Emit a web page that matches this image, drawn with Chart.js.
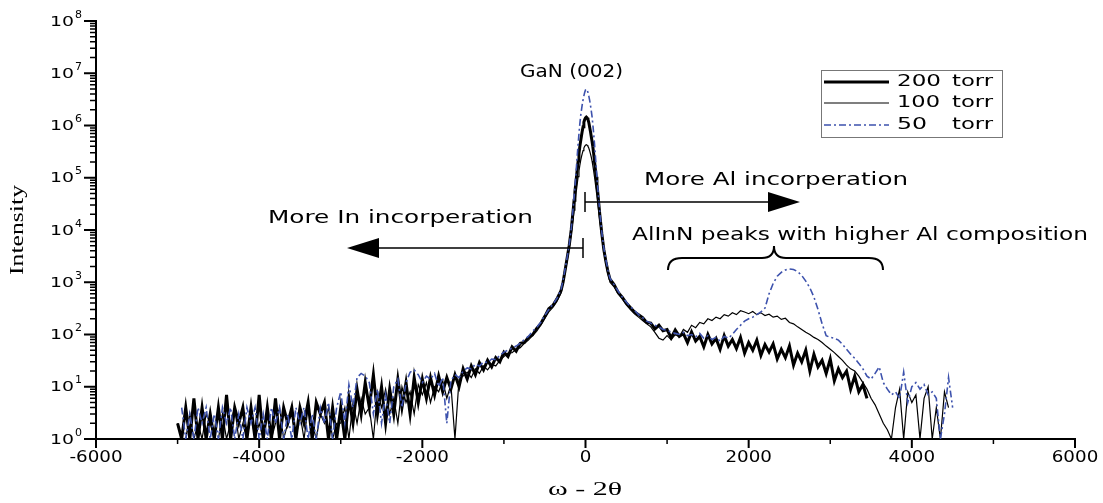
<!DOCTYPE html>
<html>
<head>
<meta charset="utf-8">
<script src="https://cdn.jsdelivr.net/npm/chart.js"></script>
<style>
  body { margin: 0; background: #fff; }
  #wrap { width: 1103px; height: 503px; }
</style>
</head>
<body>
<div id="wrap"><canvas id="myChart"></canvas></div>
<script>
// omega - 2theta positions (shared by all three scans)
const xValues = [
  -5000, -4950, -4900, -4850, -4800, -4750, -4700, -4650, -4600, -4550,
  -4500, -4450, -4400, -4350, -4300, -4250, -4200, -4150, -4100, -4050,
  -4000, -3950, -3900, -3850, -3800, -3750, -3700, -3650, -3600, -3550,
  -3500, -3450, -3400, -3350, -3300, -3250, -3200, -3150, -3100, -3050,
  -3000, -2950, -2900, -2850, -2800, -2750, -2700, -2650, -2600, -2550,
  -2500, -2450, -2400, -2350, -2300, -2250, -2200, -2150, -2100, -2050,
  -2000, -1950, -1900, -1850, -1800, -1750, -1700, -1650, -1600, -1550,
  -1500, -1450, -1400, -1350, -1300, -1250, -1200, -1150, -1100, -1050,
  -1000, -950, -900, -850, -800, -750, -700, -650, -600, -550,
  -500, -450, -400, -350, -300,
  -275, -250, -225, -200, -175,
  -150, -140, -130, -120, -110, -100, -90, -80, -70, -60,
  -50, -40, -30, -20, -10, 0, 10, 20, 30, 40,
  50, 60, 70, 80, 90, 100, 110, 120, 130, 140, 150,
  175, 200, 225, 250, 275,
  300, 350, 400, 450, 500, 550, 600, 650, 700, 750,
  800, 850, 900, 950, 1000, 1050, 1100, 1150, 1200, 1250,
  1300, 1350, 1400, 1450, 1500, 1550, 1600, 1650, 1700, 1750,
  1800, 1850, 1900, 1950, 2000, 2050, 2100, 2150, 2200, 2250,
  2300, 2350, 2400, 2450, 2500, 2550, 2600, 2650, 2700, 2750,
  2800, 2850, 2900, 2950, 3000, 3050, 3100, 3150, 3200, 3250,
  3300, 3350, 3400, 3450, 3500, 3550, 3600, 3650, 3700, 3750,
  3800, 3850, 3900, 3950, 4000, 4050, 4100, 4150, 4200, 4250,
  4300, 4350, 4400, 4450, 4500
];

// 200 torr (thick black)
const torr200 = [
  2, 1, 4, 1, 6, 1, 4, 1, 3, 1,
  4, 1, 7, 1, 4, 2, 4, 1, 4, 1,
  7, 1, 4, 1, 6, 1, 4, 2, 4, 1,
  4, 2, 5, 1, 5, 3, 5, 1, 4, 1,
  4, 1, 6, 2, 9, 3, 12, 4, 17, 3,
  10, 2, 9, 3, 14, 4, 12, 3, 15, 5,
  14, 6, 15, 7, 16, 8, 15, 9, 17, 10,
  22, 14, 25, 17, 29, 21, 32, 24, 36, 30,
  46, 38, 58, 48, 68, 70, 88, 98, 130, 160,
  220, 310, 360, 480, 690,
  1000, 1700, 2900, 5000, 10000,
  25000, 37000, 53000, 75000, 105000, 150000, 210000, 290000, 390000, 500000,
  620000, 780000, 950000, 1150000, 1300000, 1400000, 1450000, 1400000, 1300000, 1150000,
  950000, 780000, 620000, 500000, 390000, 290000, 210000, 150000, 105000, 75000, 53000,
  20000, 8500, 4200, 2500, 1600,
  1150, 900, 640, 520, 400, 330, 270, 240, 210, 170,
  165, 128, 150, 118, 124, 86, 122, 92, 104, 70,
  112, 75, 92, 58, 100, 66, 84, 52, 95, 60,
  80, 54, 88, 44, 70, 50, 78, 40, 64, 46,
  66, 34, 52, 36, 60, 26, 44, 30, 50, 20,
  42, 24, 32, 18, 34, 13, 22, 15, 20, 9,
  16, 8, 11, 6, null, null, null, null, null, null,
  null, null, null, null, null, null, null, null, null, null,
  null, null, null, null, null
];

// 100 torr (thin black)
const torr100 = [
  2, 1, 1, 3, 1, 2, 1, 3, 2, 1,
  1, 3, 1, 2, 4, 1, 2, 1, 3, 1,
  2, 1, 3, 1, 2, 4, 1, 2, 3, 1,
  3, 1, 4, 2, 1, 3, 2, 4, 1, 2,
  2, 4, 1, 5, 2, 6, 3, 4, 1, 8,
  4, 9, 3, 6, 2, 10, 5, 8, 3, 11,
  7, 12, 5, 10, 8, 13, 6, 11, 1, 14,
  16, 19, 15, 22, 18, 25, 21, 27, 25, 32,
  38, 44, 45, 52, 56, 68, 78, 95, 115, 150,
  200, 270, 330, 430, 620,
  950, 1600, 2600, 4500, 8500,
  17000, 24000, 33000, 45000, 60000, 80000, 105000, 135000, 170000, 210000,
  250000, 290000, 330000, 370000, 400000, 420000, 430000, 420000, 400000, 370000,
  330000, 290000, 250000, 210000, 170000, 135000, 105000, 80000, 60000, 45000, 33000,
  15000, 7500, 4000, 2300, 1450,
  1000, 820, 600, 480, 370, 300, 250, 215, 185, 160,
  140, 110, 85, 78, 95, 80, 100, 90, 125, 110,
  150, 135, 170, 160, 200, 185, 215, 200, 240, 225,
  260, 240, 285, 270, 250, 275, 240, 260, 230, 245,
  215, 225, 195, 205, 170, 160, 140, 125, 110, 100,
  88, 80, 70, 60, 52, 45, 38, 32, 26, 22,
  20, 16, 12, 9, 6, 4.5, 3, 2, 1.5, 1,
  4, 9, 1, 8, 5, 7, 1, 6, 10, 1,
  4, 1, 8, 4, null
];

// 50 torr (blue dash-dot)
const torr50 = [
  null, 4, 1, 3, 1, 4, 2, 4, 1, 3,
  1, 4, 2, 4, 1, 3, 1, 4, 2, 4,
  1, 3, 1, 4, 2, 4, 1, 3, 1, 4,
  2, 4, 1, 3, 1, 4, 2, 5, 1, 4,
  8, 2, 11, 4, 15, 18, 16, 12, 3, 9,
  2, 7, 2, 10, 14, 4, 12, 19, 21, 17,
  12, 16, 14, 18, 10, 15, 2, 13, 17, 15,
  20, 23, 22, 27, 25, 30, 29, 34, 33, 40,
  46, 50, 55, 60, 68, 80, 92, 115, 135, 170,
  230, 300, 380, 490, 720,
  1100, 1800, 3000, 5200, 10500,
  28000, 43000, 65000, 105000, 170000, 280000, 450000, 700000, 1050000, 1500000,
  1950000, 2500000, 3100000, 3700000, 4300000, 4800000, 5000000, 4800000, 4300000, 3700000,
  3100000, 2500000, 1950000, 1500000, 1050000, 700000, 450000, 280000, 170000, 105000, 65000,
  22000, 9000, 4500, 2700, 1700,
  1200, 900, 680, 520, 420, 340, 290, 240, 210, 180,
  165, 150, 140, 125, 120, 112, 105, 100, 110, 95,
  100, 90, 105, 85, 95, 80, 88, 75, 92, 85,
  100, 125, 150, 180, 200, 215, 240, 270, 320, 600,
  950, 1300, 1550, 1720, 1800, 1750, 1600, 1350, 1050, 780,
  520, 300, 160, 95, 88, 85, 78, 65, 52, 42,
  35, 28, 22, 16, 14, 18, 24, 12, 9, 7,
  8, 6, 19, 5, 10, 12, 9, 11, 7, 8,
  6, 1, 3, 15, 4
];

const seriesNames = ['200', '100', '50'];
const xTicks = [-6000, -4000, -2000, 0, 2000, 4000, 6000];
const yExponents = [0, 1, 2, 3, 4, 5, 6, 7, 8];

[torr200, torr100, torr50].forEach(function (s) {
  if (s.length !== xValues.length) throw new Error('length ' + s.length + ' vs ' + xValues.length);
});

const BLUE = '#3d52ad';

function toPoints(arr) {
  return xValues.map(function (v, i) { return { x: v, y: arr[i] }; });
}

// text squeezed/stretched to a given width
function fitText(ctx, text, x, y, width, font, align) {
  ctx.font = font;
  const w = ctx.measureText(text).width;
  ctx.save();
  ctx.translate(x, y);
  ctx.scale(width / w, 1);
  ctx.textBaseline = 'middle';
  ctx.textAlign = 'left';
  ctx.fillText(text, align === 'center' ? -w / 2 : (align === 'right' ? -w : 0), 0);
  ctx.restore();
}

function stretchText(ctx, text, x, y, sx, font) {
  ctx.font = font;
  const w = ctx.measureText(text).width;
  ctx.save();
  ctx.translate(x, y);
  ctx.scale(sx, 1);
  ctx.textBaseline = 'middle';
  ctx.textAlign = 'left';
  ctx.fillText(text, -w / 2, 0);
  ctx.restore();
}

const decor = {
  id: 'decor',
  afterDraw(chart) {
    const ctx = chart.ctx;
    const xs = chart.scales.x;
    const ys = chart.scales.y;
    const left = xs.left, bottom = ys.bottom;
    ctx.save();
    ctx.fillStyle = '#000';
    ctx.strokeStyle = '#000';

    // major ticks
    ctx.lineWidth = 2;
    ctx.beginPath();
    yExponents.forEach(function (e) {
      const py = ys.getPixelForValue(Math.pow(10, e));
      ctx.moveTo(left - 12, py); ctx.lineTo(left, py);
    });
    for (let v = -6000; v <= 6000; v += 2000) {
      const px = xs.getPixelForValue(v);
      ctx.moveTo(px, bottom); ctx.lineTo(px, bottom + 9);
    }
    ctx.stroke();
    // minor ticks
    ctx.lineWidth = 1.5;
    ctx.beginPath();
    yExponents.forEach(function (e) {
      if (e === 8) return;
      for (let m = 2; m <= 9; m++) {
        const pm = ys.getPixelForValue(m * Math.pow(10, e));
        ctx.moveTo(left - 6, pm); ctx.lineTo(left, pm);
      }
    });
    for (let v = -5000; v <= 5000; v += 2000) {
      const px = xs.getPixelForValue(v);
      ctx.moveTo(px, bottom); ctx.lineTo(px, bottom + 5);
    }
    ctx.stroke();

    // tick labels
    xTicks.forEach(function (v) {
      stretchText(ctx, String(v), xs.getPixelForValue(v), bottom + 19, 1.22, '15px "DejaVu Sans"');
    });
    yExponents.forEach(function (e) {
      const py = ys.getPixelForValue(Math.pow(10, e));
      fitText(ctx, '10', 74, py + 1, 24, '14px "DejaVu Sans"', 'right');
      fitText(ctx, String(e), 75, py - 6, 7, '10px "DejaVu Sans"', 'left');
    });

    // axis titles
    ctx.save();
    ctx.translate(18, (ys.top + ys.bottom) / 2);
    ctx.rotate(-Math.PI / 2);
    fitText(ctx, 'Intensity', 0, 0, 90, '18px "Liberation Serif"', 'center');
    ctx.restore();
    fitText(ctx, 'ω - 2θ', 585, 490, 74, '18px "Liberation Serif"', 'center');

    // legend
    ctx.lineWidth = 1;
    ctx.strokeStyle = '#777';
    ctx.strokeRect(821.5, 70.5, 181, 67);
    const rows = [82, 103, 125];
    const numW = [44, 43, 30];
    ctx.strokeStyle = '#000';
    ctx.lineWidth = 3;
    ctx.beginPath(); ctx.moveTo(824, rows[0]); ctx.lineTo(889, rows[0]); ctx.stroke();
    ctx.lineWidth = 1.2;
    ctx.beginPath(); ctx.moveTo(824, rows[1]); ctx.lineTo(889, rows[1]); ctx.stroke();
    ctx.strokeStyle = BLUE;
    ctx.lineWidth = 1.5;
    ctx.setLineDash([7, 3, 2, 3]);
    ctx.beginPath(); ctx.moveTo(824, rows[2]); ctx.lineTo(889, rows[2]); ctx.stroke();
    ctx.setLineDash([]);
    seriesNames.forEach(function (n, i) {
      fitText(ctx, n, 897, rows[i], numW[i], '16px "DejaVu Sans"', 'left');
      fitText(ctx, 'torr', 952, rows[i], 41, '16px "DejaVu Sans"', 'left');
    });

    // annotations
    const f = '18px "DejaVu Sans"';
    fitText(ctx, 'GaN (002)', 520, 72, 103, f, 'left');
    fitText(ctx, 'More Al incorperation', 644, 180, 264, f, 'left');
    fitText(ctx, 'More In incorperation', 268, 218, 265, f, 'left');
    fitText(ctx, 'AlInN peaks with higher Al composition', 632, 235, 456, f, 'left');

    // arrows
    ctx.strokeStyle = '#000';
    ctx.lineWidth = 1.5;
    ctx.beginPath();
    ctx.moveTo(585, 192); ctx.lineTo(585, 212);
    ctx.moveTo(585, 202); ctx.lineTo(770, 202);
    ctx.moveTo(583, 238); ctx.lineTo(583, 258);
    ctx.moveTo(583, 248); ctx.lineTo(376, 248);
    ctx.stroke();
    ctx.beginPath();
    ctx.moveTo(800, 202); ctx.lineTo(768, 192); ctx.lineTo(768, 212); ctx.closePath();
    ctx.moveTo(347, 248); ctx.lineTo(379, 238); ctx.lineTo(379, 258); ctx.closePath();
    ctx.fill();

    // brace over the AlInN region
    ctx.lineWidth = 2;
    ctx.beginPath();
    ctx.moveTo(668, 270);
    ctx.quadraticCurveTo(668, 258, 682, 258);
    ctx.lineTo(762, 258);
    ctx.quadraticCurveTo(774, 258, 774, 246);
    ctx.quadraticCurveTo(774, 258, 786, 258);
    ctx.lineTo(869, 258);
    ctx.quadraticCurveTo(883, 258, 883, 270);
    ctx.stroke();

    ctx.restore();
  }
};

new Chart(document.getElementById('myChart'), {
  type: 'line',
  data: {
    datasets: [
      {
        label: '50 torr',
        data: toPoints(torr50),
        borderColor: BLUE,
        borderWidth: 1.6,
        borderDash: [7, 3, 2, 3],
        order: 0
      },
      {
        label: '200 torr',
        data: toPoints(torr200),
        borderColor: '#000',
        borderWidth: 3,
        order: 1
      },
      {
        label: '100 torr',
        data: toPoints(torr100),
        borderColor: '#000',
        borderWidth: 1.2,
        order: 2
      }
    ]
  },
  options: {
    responsive: true,
    maintainAspectRatio: false,
    animation: false,
    layout: { padding: { top: 21, right: 28, left: 0, bottom: 0 } },
    elements: { point: { radius: 0 }, line: { tension: 0, fill: false } },
    plugins: { legend: { display: false }, tooltip: { enabled: false } },
    scales: {
      x: {
        type: 'linear', min: -6000, max: 6000,
        ticks: { display: false },
        grid: { display: false },
        border: { display: true, color: '#000', width: 2 },
        afterFit(s) { s.height = 64; }
      },
      y: {
        type: 'logarithmic', min: 1, max: 1e8,
        ticks: { display: false },
        grid: { display: false },
        border: { display: true, color: '#000', width: 2 },
        afterFit(s) { s.width = 96; }
      }
    }
  },
  plugins: [decor]
});
</script>
</body>
</html>
